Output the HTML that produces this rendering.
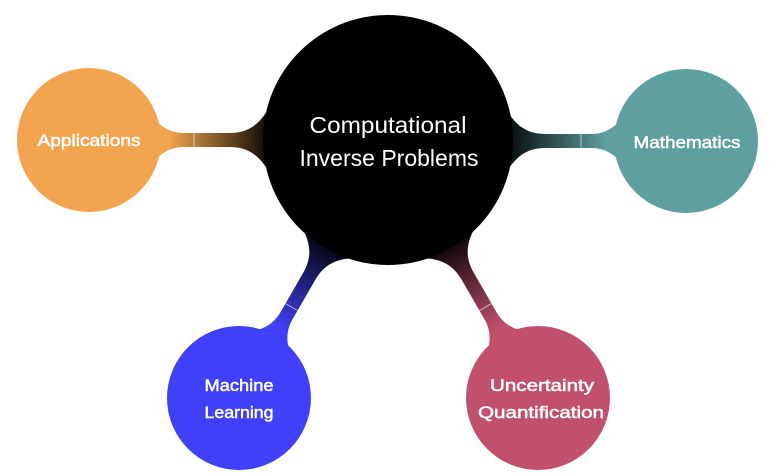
<!DOCTYPE html>
<html><head><meta charset="utf-8"><style>
html,body{margin:0;padding:0;background:#fff;}
svg{display:block;}
text{font-family:"Liberation Sans",sans-serif;fill:#fff;text-anchor:middle;}
.c{stroke:#fff;stroke-width:0.5;}
</style></head><body>
<svg width="774" height="474" viewBox="0 0 774 474" xmlns="http://www.w3.org/2000/svg">
<defs>
<linearGradient id="gA" gradientUnits="userSpaceOnUse" x1="80" y1="0" x2="185" y2="0"><stop offset="0" stop-color="#F2A54E"/><stop offset="1" stop-color="#000"/></linearGradient>
<linearGradient id="gM" gradientUnits="userSpaceOnUse" x1="80" y1="0" x2="185" y2="0"><stop offset="0" stop-color="#5E9FA0"/><stop offset="1" stop-color="#000"/></linearGradient>
<linearGradient id="gL" gradientUnits="userSpaceOnUse" x1="80" y1="0" x2="185" y2="0"><stop offset="0" stop-color="#4040F8"/><stop offset="1" stop-color="#000"/></linearGradient>
<linearGradient id="gU" gradientUnits="userSpaceOnUse" x1="80" y1="0" x2="185" y2="0"><stop offset="0" stop-color="#C0506E"/><stop offset="1" stop-color="#000"/></linearGradient>
<path id="con" d="M45,-50 C62,-20 75,-7 95,-7 L140,-7 C160,-7 177,-15 192,-60 L220,-60 L220,60 L192,60 C177,15 160,7 140,7 L95,7 C75,7 62,20 45,50 Z"/>
</defs>
<g transform="translate(89,140)"><use href="#con" fill="url(#gA)"/><line x1="105" y1="-7" x2="105" y2="7" stroke="#fff" stroke-opacity="0.6" stroke-width="1"/></g>
<g transform="translate(686,141) rotate(180)"><use href="#con" fill="url(#gM)"/><line x1="105" y1="-7" x2="105" y2="7" stroke="#fff" stroke-opacity="0.6" stroke-width="1"/></g>
<g transform="translate(239,398) rotate(-60)"><use href="#con" fill="url(#gL)"/><line x1="105" y1="-7" x2="105" y2="7" stroke="#fff" stroke-opacity="0.6" stroke-width="1"/></g>
<g transform="translate(538,398) rotate(-120)"><use href="#con" fill="url(#gU)"/><line x1="105" y1="-7" x2="105" y2="7" stroke="#fff" stroke-opacity="0.6" stroke-width="1"/></g>
<circle cx="388" cy="140" r="125" fill="#000"/>
<circle cx="89" cy="140" r="72" fill="#F2A54E"/>
<circle cx="686" cy="141" r="72" fill="#5E9FA0"/>
<circle cx="239" cy="398" r="72" fill="#4040F8"/>
<circle cx="538" cy="398" r="72" fill="#C0506E"/>
<text x="388" y="133" font-size="23" textLength="157" lengthAdjust="spacingAndGlyphs">Computational</text>
<text x="389" y="166" font-size="23" textLength="179" lengthAdjust="spacingAndGlyphs">Inverse Problems</text>
<text class="c" x="89" y="146" font-size="17" textLength="103" lengthAdjust="spacingAndGlyphs">Applications</text>
<text class="c" x="687" y="148" font-size="17" textLength="107" lengthAdjust="spacingAndGlyphs">Mathematics</text>
<text class="c" x="239" y="391" font-size="17" textLength="69" lengthAdjust="spacingAndGlyphs">Machine</text>
<text class="c" x="239" y="418" font-size="17" textLength="69" lengthAdjust="spacingAndGlyphs">Learning</text>
<text class="c" x="542" y="391" font-size="17" textLength="104" lengthAdjust="spacingAndGlyphs">Uncertainty</text>
<text class="c" x="541" y="418" font-size="17" textLength="126" lengthAdjust="spacingAndGlyphs">Quantification</text>
</svg>
</body></html>
